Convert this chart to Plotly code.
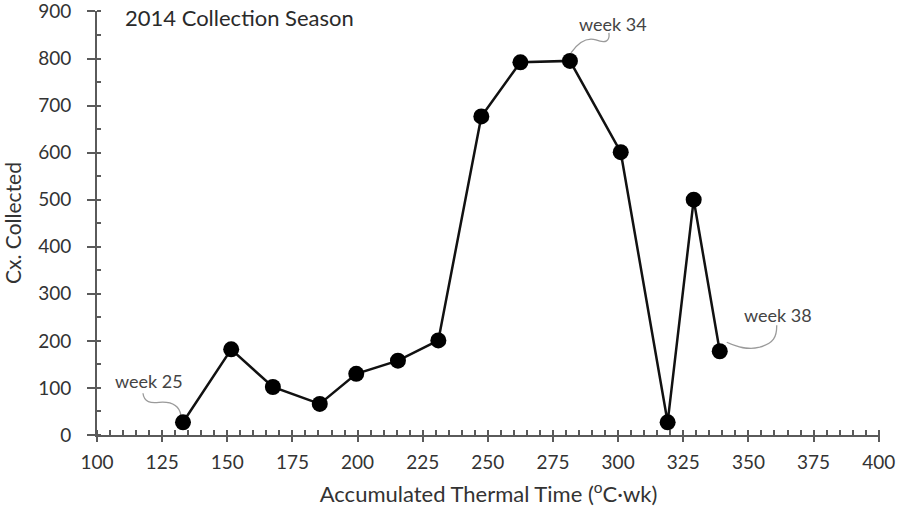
import plotly.graph_objects as go

# Data
thermal_time = [133, 151.5, 167.5, 185.5, 199.5, 215.5, 231, 247.5, 262.5, 281.5, 301, 319, 329, 339]
collected = [27, 182, 102, 66, 130, 158, 201, 677, 792, 795, 601, 27, 500, 178]
weeks = list(range(25, 39))
labelled_weeks = [25, 34, 38]

x_ticks = list(range(100, 401, 25))
y_ticks = list(range(0, 901, 100))

FONT = "Lato"
TXT = "#333333"
AX = "#5a5a5a"

fig = go.Figure()
fig.add_trace(go.Scatter(
    x=thermal_time, y=collected, mode="lines+markers",
    line=dict(color="#111111", width=2.5),
    marker=dict(color="#000000", size=16),
    showlegend=False, hoverinfo="x+y",
))

# annotation text offsets (px) and curved leader paths (px, relative to point, y up)
label_style = {
    25: dict(dx=-34, dy=41, path="M -40,29 C -39,20 -32,19 -24,20 C -12,21 -4,18 -2,7"),
    34: dict(dx=43, dy=37, path="M 39,28 C 40,20 36,17 26,21 C 16,24 8,18 1,8"),
    38: dict(dx=58, dy=36, path="M 57,26 C 57,14 54,8 40,4 C 28,1 18,4 7,9"),
}
for w in labelled_weeks:
    i = weeks.index(w)
    st = label_style[w]
    fig.add_annotation(
        x=thermal_time[i], y=collected[i], xref="x", yref="y",
        text=f"week {w}", showarrow=False,
        xshift=st["dx"], yshift=st["dy"],
        font=dict(family=FONT, size=18, color="#444444"),
    )
    fig.add_shape(
        type="path", xref="x", yref="y",
        xsizemode="pixel", ysizemode="pixel",
        xanchor=thermal_time[i], yanchor=collected[i],
        path=st["path"],
        line=dict(color="#9a9a9a", width=1.3),
        layer="below",
    )

fig.add_annotation(
    text="2014 Collection Season", xref="paper", yref="paper",
    x=0.033, y=0.984, xanchor="left", yanchor="middle", showarrow=False,
    font=dict(family=FONT, size=22, color="#2a2a2a"),
)

fig.update_layout(
    width=898, height=513,
    margin=dict(l=97, r=18, t=11, b=78, autoexpand=False),
    paper_bgcolor="white", plot_bgcolor="white",
    font=dict(family=FONT, color=TXT),
    xaxis=dict(
        range=[100, 400.5], tickvals=x_ticks, ticktext=[str(v) for v in x_ticks],
        showgrid=False, zeroline=False, automargin=False,
        showline=True, linecolor=AX, linewidth=2,
        ticks="outside", ticklen=5, tickwidth=2, tickcolor=AX,
        minor=dict(dtick=5, ticks="inside", ticklen=5, tickwidth=1.5, tickcolor=AX),
        tickfont=dict(family=FONT, size=19, color=TXT),
        ticklabelstandoff=4, ticklabeloverflow="allow",
        title=dict(text="Accumulated Thermal Time (<sup>o</sup>C·wk)",
                   font=dict(family=FONT, size=22, color=TXT), standoff=15),
    ),
    xaxis2=dict(
        range=[100, 400.5], overlaying="x", matches="x", tickvals=x_ticks,
        showticklabels=False, showgrid=False, zeroline=False, showline=False,
        ticks="inside", ticklen=4, tickwidth=2, tickcolor=AX, automargin=False,
    ),
    yaxis=dict(
        range=[0, 901], tickvals=y_ticks, ticktext=[str(v) for v in y_ticks],
        showgrid=False, zeroline=False, automargin=False,
        showline=True, linecolor=AX, linewidth=2,
        ticks="outside", ticklen=8, tickwidth=2, tickcolor=AX,
        minor=dict(dtick=50, ticks="inside", ticklen=4, tickwidth=1.5, tickcolor=AX),
        tickfont=dict(family=FONT, size=19, color=TXT),
        ticklabelstandoff=12, ticklabeloverflow="allow",
        title=dict(text="Cx. Collected", font=dict(family=FONT, size=21, color=TXT), standoff=12),
    ),
    yaxis2=dict(
        range=[0, 901], overlaying="y", matches="y", tickvals=y_ticks,
        showticklabels=False, showgrid=False, zeroline=False, showline=False,
        ticks="inside", ticklen=3, tickwidth=2, tickcolor=AX, automargin=False,
    ),
)
fig.write_html("out.html")
